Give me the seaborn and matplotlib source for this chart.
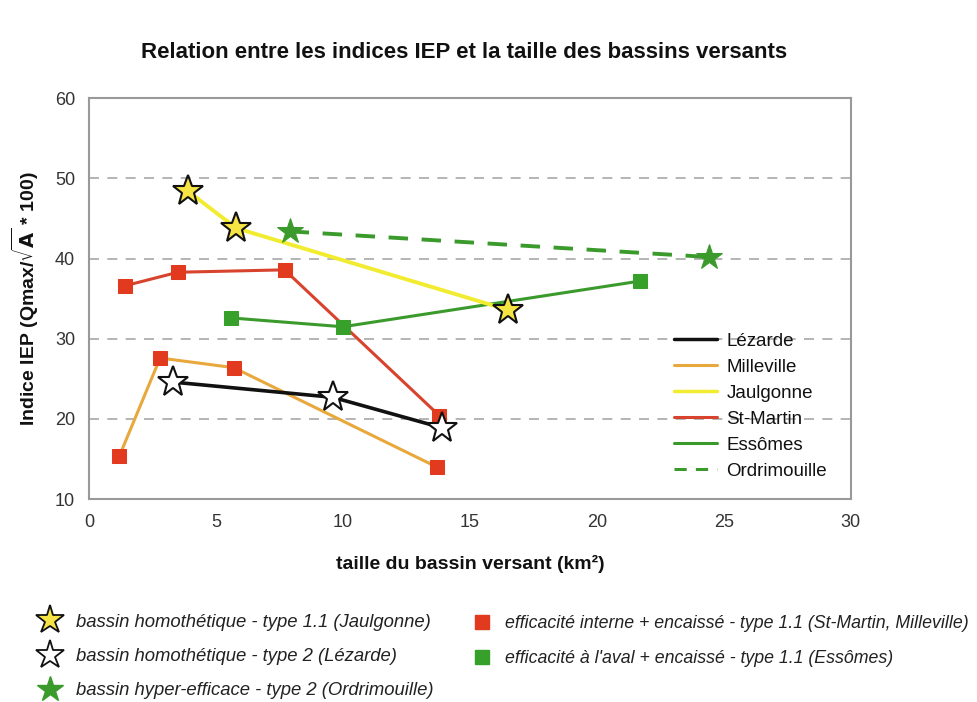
import matplotlib
matplotlib.use("Agg")
import matplotlib.pyplot as plt
from matplotlib.lines import Line2D
import seaborn as sns
import pandas as pd

# Basin area (km²) and IEP index for each catchment
lezarde_x = [3.3, 9.6, 13.9]
lezarde_y = [24.6, 22.7, 18.9]

milleville_x = [1.2, 2.8, 5.7, 13.7]
milleville_y = [15.4, 27.6, 26.4, 14.0]

jaulgonne_x = [3.9, 5.8, 16.5]
jaulgonne_y = [48.4, 43.8, 33.6]

stmartin_x = [1.4, 3.5, 7.7, 13.8]
stmartin_y = [36.6, 38.3, 38.6, 20.4]

essomes_x = [5.6, 10.0, 21.7]
essomes_y = [32.6, 31.5, 37.2]

ordrimouille_x = [7.9, 24.4]
ordrimouille_y = [43.4, 40.2]

series_names = ["Lézarde", "Milleville", "Jaulgonne", "St-Martin", "Essômes", "Ordrimouille"]
type_labels = [
    "bassin homothétique - type 1.1 (Jaulgonne)",
    "bassin homothétique - type 2 (Lézarde)",
    "bassin hyper-efficace - type 2 (Ordrimouille)",
    "efficacité interne + encaissé - type 1.1 (St-Martin, Milleville)",
    "efficacité à l'aval + encaissé - type 1.1 (Essômes)",
]
x_ticks = [0, 5, 10, 15, 20, 25, 30]
y_ticks = [10, 20, 30, 40, 50, 60]

BLACK = "#111111"
ORANGE = "#E8A83C"
YELLOW = "#F2EC30"
STAR_YELLOW = "#F6E444"
RED = "#D8432E"
SQ_RED = "#E23A1E"
GREEN = "#3B9A2C"
SQ_GREEN = "#36A02A"

sns.set_theme(style="white")
plt.rcParams["font.family"] = ["Liberation Sans", "DejaVu Sans"]

fig = plt.figure(figsize=(9.78, 7.02), dpi=100)
ax = fig.add_axes([0.091, 0.289, 0.779, 0.571])


def df(x, y):
    return pd.DataFrame({"x": x, "y": y})


for v in [20, 30, 40, 50]:
    ax.axhline(v, color="#a8a8a8", lw=1.2, ls=(0, (6, 5)), zorder=0)

# Lines
sns.lineplot(data=df(stmartin_x, stmartin_y), x="x", y="y", ax=ax, color=RED, lw=2.2,
             marker="s", markersize=10, markerfacecolor=SQ_RED, markeredgecolor=SQ_RED, zorder=3)
sns.lineplot(data=df(essomes_x, essomes_y), x="x", y="y", ax=ax, color=GREEN, lw=2.2,
             marker="s", markersize=10, markerfacecolor=SQ_GREEN, markeredgecolor=SQ_GREEN, zorder=3)
sns.lineplot(data=df(milleville_x, milleville_y), x="x", y="y", ax=ax, color=ORANGE, lw=2.2,
             marker="s", markersize=10, markerfacecolor=SQ_RED, markeredgecolor=SQ_RED, zorder=3)
sns.lineplot(data=df(jaulgonne_x, jaulgonne_y), x="x", y="y", ax=ax, color=YELLOW, lw=2.8,
             marker="*", markersize=23, markerfacecolor=STAR_YELLOW, markeredgecolor=BLACK,
             markeredgewidth=1.5, zorder=4)
sns.lineplot(data=df(lezarde_x, lezarde_y), x="x", y="y", ax=ax, color=BLACK, lw=2.6,
             marker="*", markersize=23, markerfacecolor="white", markeredgecolor=BLACK,
             markeredgewidth=1.5, zorder=4)
sns.lineplot(data=df(ordrimouille_x, ordrimouille_y), x="x", y="y", ax=ax, color=GREEN, lw=2.8,
             marker="*", markersize=19, markerfacecolor=GREEN, markeredgecolor=GREEN,
             zorder=4)
ax.lines[-1].set_dashes([5, 3.5])

ax.set_xlim(0, 30)
ax.set_ylim(10, 60)
ax.set_xticks(x_ticks)
ax.set_yticks(y_ticks)
ax.tick_params(axis="both", labelsize=13, colors="#333333", length=0)
ax.tick_params(axis="x", pad=11)
ax.tick_params(axis="y", pad=10)
for s in ax.spines.values():
    s.set_color("#999999")
    s.set_linewidth(1.5)

ax.set_xlabel("taille du bassin versant (km²)", fontsize=14, fontweight="bold", labelpad=17,
              color="#111111")
ax.set_ylabel(r"Indice IEP (Qmax/$\mathbf{\sqrt{A}}$ * 100)", fontsize=14, fontweight="bold",
              labelpad=10, color="#111111")
fig.text(0.475, 0.925, "Relation entre les indices IEP et la taille des bassins versants",
         ha="center", va="center", fontsize=16, fontweight="bold", color="#111111")

# Series legend (lines only)
line_handles = [
    Line2D([], [], color=BLACK, lw=2.5),
    Line2D([], [], color=ORANGE, lw=2.2),
    Line2D([], [], color=YELLOW, lw=2.5),
    Line2D([], [], color=RED, lw=2.2),
    Line2D([], [], color=GREEN, lw=2.2),
    Line2D([], [], color=GREEN, lw=2.2, dashes=[4, 3]),
]
leg = ax.legend(line_handles, series_names, loc="lower left", bbox_to_anchor=(0.758, 0.03),
                frameon=False, prop={"size": 13.5}, handlelength=2.3, handletextpad=0.5,
                labelspacing=0.47, borderaxespad=0)
for t in leg.get_texts():
    t.set_color("#111111")

# Marker-type legend below the plot
left_handles = [
    Line2D([], [], ls="none", marker="*", markersize=21, markerfacecolor=STAR_YELLOW,
           markeredgecolor=BLACK, markeredgewidth=1.3),
    Line2D([], [], ls="none", marker="*", markersize=21, markerfacecolor="white",
           markeredgecolor=BLACK, markeredgewidth=1.3),
    Line2D([], [], ls="none", marker="*", markersize=19, markerfacecolor=GREEN,
           markeredgecolor=GREEN),
]
right_handles = [
    Line2D([], [], ls="none", marker="s", markersize=10, markerfacecolor=SQ_RED, markeredgecolor=SQ_RED),
    Line2D([], [], ls="none", marker="s", markersize=10, markerfacecolor=SQ_GREEN, markeredgecolor=SQ_GREEN),
]
lg1 = fig.legend(left_handles, type_labels[:3], loc="upper left", bbox_to_anchor=(0.025, 0.136),
                 frameon=False, prop={"size": 13.3, "style": "italic"}, handletextpad=0.4,
                 handlelength=2.0, labelspacing=0.93, borderaxespad=0)
lg2 = fig.legend(right_handles, type_labels[3:], loc="upper left", bbox_to_anchor=(0.467, 0.134),
                 frameon=False, prop={"size": 12.8, "style": "italic"}, handletextpad=0.3,
                 handlelength=2.0, labelspacing=1.03, borderaxespad=0)
for lg in (lg1, lg2):
    for t in lg.get_texts():
        t.set_color("#222222")

fig.savefig("out.png", dpi=100, facecolor="white")
